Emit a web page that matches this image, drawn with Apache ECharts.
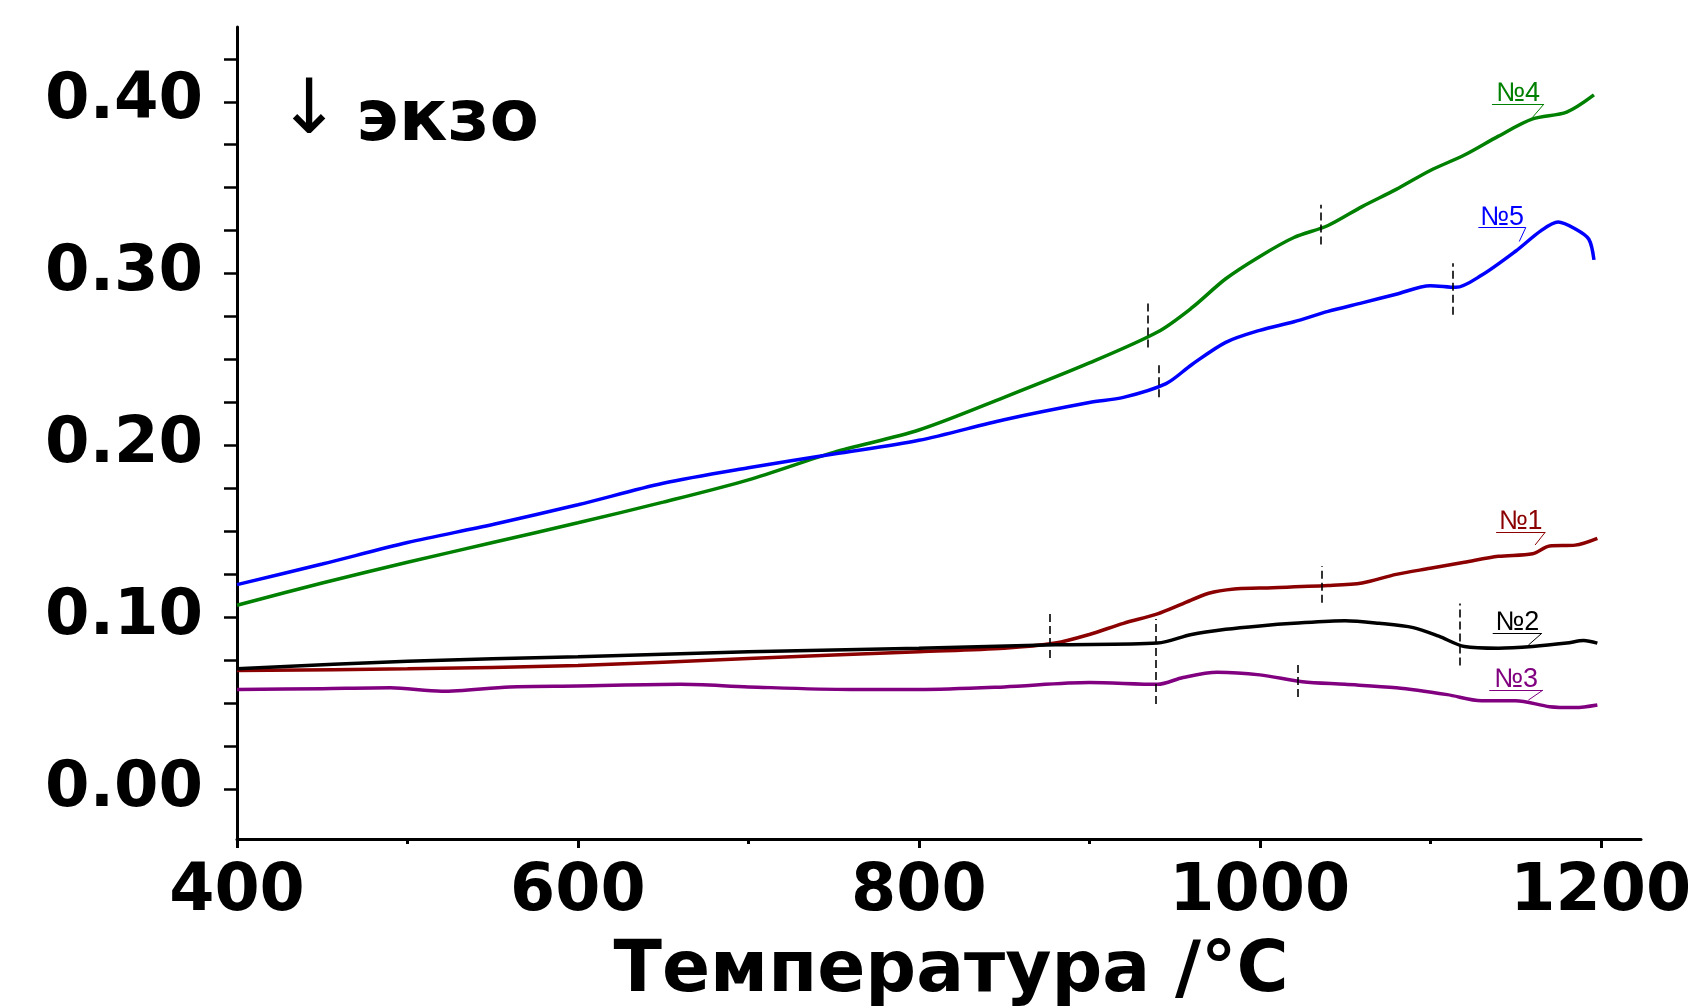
<!DOCTYPE html>
<html>
<head>
<meta charset="utf-8">
<title>ДТА</title>
<script src="https://cdn.jsdelivr.net/npm/echarts@6.0.0/dist/echarts.min.js"></script>
<style>
  html, body { margin: 0; padding: 0; background: #fff; }
  #chart { width: 1688px; height: 1007px; }
</style>
</head>
<body>
<div id="chart"></div>
<script>
// подписи и деления осей
const xLabelValues = [400, 600, 800, 1000, 1200];
const xMinorTicks = [500, 700, 900, 1100];
const yLabelValues = [0, 0.1, 0.2, 0.3, 0.4];
const yTickValues = [0, 0.025, 0.05, 0.075, 0.1, 0.125, 0.15, 0.175, 0.2, 0.225,
    0.25, 0.275, 0.3, 0.325, 0.35, 0.375, 0.4, 0.425];

// №1
const temp1 = [400, 500, 600, 700, 800, 850, 880, 900, 920, 940, 955, 970, 985, 1000, 1040, 1060, 1080, 1100, 1120, 1140, 1160, 1170, 1185, 1198];
const val1 = [0.069, 0.070, 0.072, 0.076, 0.080, 0.082, 0.085, 0.090, 0.0965, 0.102, 0.108, 0.114, 0.1165, 0.117, 0.1185, 0.120, 0.125, 0.1285, 0.132, 0.1355, 0.137, 0.1415, 0.142, 0.146];
// №2
const temp2 = [400, 500, 600, 700, 800, 880, 940, 960, 980, 1000, 1020, 1050, 1070, 1090, 1105, 1120, 1140, 1160, 1180, 1190, 1198];
const val2 = [0.070, 0.0745, 0.077, 0.080, 0.082, 0.084, 0.085, 0.090, 0.093, 0.095, 0.0965, 0.098, 0.0965, 0.094, 0.089, 0.083, 0.082, 0.083, 0.085, 0.0865, 0.085];
// №3
const temp3 = [400, 450, 490, 520, 560, 600, 660, 700, 760, 800, 850, 900, 940, 955, 975, 1000, 1025, 1050, 1080, 1110, 1130, 1150, 1170, 1185, 1198];
const val3 = [0.058, 0.0585, 0.059, 0.057, 0.0595, 0.060, 0.061, 0.0595, 0.058, 0.058, 0.0595, 0.062, 0.061, 0.065, 0.068, 0.0665, 0.0625, 0.061, 0.059, 0.055, 0.0515, 0.0515, 0.048, 0.0475, 0.049];
// №4
const temp4 = [400, 450, 500, 550, 600, 650, 700, 750, 800, 850, 900, 940, 960, 980, 1000, 1020, 1040, 1060, 1080, 1100, 1120, 1140, 1160, 1180, 1196];
const val4 = [0.107, 0.120, 0.132, 0.1435, 0.155, 0.167, 0.180, 0.196, 0.209, 0.228, 0.248, 0.266, 0.280, 0.297, 0.310, 0.321, 0.328, 0.339, 0.349, 0.360, 0.369, 0.380, 0.390, 0.394, 0.404];
// №5
const temp5 = [400, 450, 500, 550, 600, 650, 700, 750, 800, 850, 900, 920, 945, 960, 980, 1000, 1020, 1040, 1060, 1080, 1100, 1115, 1130, 1150, 1165, 1175, 1185, 1193, 1196];
const val5 = [0.119, 0.131, 0.1435, 0.154, 0.1655, 0.178, 0.187, 0.195, 0.203, 0.215, 0.225, 0.228, 0.236, 0.247, 0.260, 0.267, 0.272, 0.278, 0.283, 0.288, 0.293, 0.292, 0.299, 0.313, 0.325, 0.330, 0.326, 0.320, 0.308];

const names = ['№1', '№2', '№3', '№4', '№5'];
const colors = ['#8b0000', '#000000', '#800080', '#008000', '#0000ff'];

// подпись кривой: [T начала черты, T конца черты, уровень черты, T конца выноски, уровень конца выноски]
const tags = [
    [1138.6, 1167.4, 0.1495, 1161.5, 0.1421],
    [1136.6, 1165.4, 0.0907, 1157.5, 0.0838],
    [1134.6, 1166.0, 0.0576, 1157.5, 0.0518],
    [1136.2, 1166.7, 0.3987, 1160.1, 0.3911],
    [1128.2, 1156.0, 0.3268, 1152.2, 0.3187]
];
// вертикальные штриховые отметки: [T, от, до]
const marks = [
    [[876.7, 0.0763, 0.1025], [1036.5, 0.1085, 0.1298]],
    [[939, 0.0495, 0.099], [1117, 0.072, 0.108]],
    [[1022, 0.0537, 0.0741]],
    [[934, 0.257, 0.283], [1036, 0.317, 0.340]],
    [[941, 0.228, 0.248], [1113, 0.276, 0.306]]
];

const temps = [temp1, temp2, temp3, temp4, temp5];
const vals = [val1, val2, val3, val4, val5];

const boldFont = 'DejaVu Sans';

function buildSeries (i) {
    let data = temps[i].map((t, k) => [t, vals[i][k]]);
    let tag = tags[i];
    let lineData = [
        [{ coord: [tag[0], tag[2]] }, { coord: [tag[1], tag[2]] }],
        [{ coord: [tag[1], tag[2]] }, { coord: [tag[3], tag[4]] }]
    ];
    marks[i].forEach(m => {
        lineData.push([
            { coord: [m[0], m[1]], lineStyle: { color: '#000', width: 1.6, type: [8, 4] } },
            { coord: [m[0], m[2]] }
        ]);
    });
    return {
        name: names[i],
        type: 'line',
        data: data,
        smooth: 0.3,
        showSymbol: false,
        lineStyle: { color: colors[i], width: 3.5 },
        itemStyle: { color: colors[i] },
        z: 3,
        markLine: {
            silent: true,
            symbol: ['none', 'none'],
            label: { show: false },
            lineStyle: { color: colors[i], width: 1, type: 'solid' },
            emphasis: { disabled: true },
            data: lineData
        },
        markPoint: {
            silent: true,
            symbol: 'circle',
            symbolSize: 0,
            label: {
                show: true,
                position: 'top',
                distance: -3,
                formatter: names[i],
                color: colors[i],
                fontFamily: 'Liberation Sans',
                fontSize: 27
            },
            data: [{ coord: [(tag[0] + tag[1]) / 2, tag[2]] }]
        }
    };
}

let myChart = echarts.init(document.getElementById('chart'));
myChart.setOption({
    animation: false,
    backgroundColor: '#fff',
    grid: { left: 237, right: 47, top: 27, bottom: 168, containLabel: false, outerBoundsMode: 'none' },
    xAxis: [
        {
            type: 'value',
            min: 400,
            max: 1223.6,
            name: 'Температура /°C',
            nameLocation: 'middle',
            nameGap: 98,
            nameTextStyle: {
                fontFamily: boldFont, fontWeight: 'bold', fontSize: 71, color: '#000',
                padding: [0, 0, 0, 24]
            },
            axisLine: { onZero: false, lineStyle: { color: '#000', width: 3 } },
            axisTick: { customValues: xLabelValues, length: 9, lineStyle: { color: '#000', width: 3 } },
            axisLabel: {
                customValues: xLabelValues,
                margin: 22,
                formatter: v => String(v),
                fontFamily: boldFont, fontWeight: 'bold', fontSize: 65, color: '#000'
            },
            splitLine: { show: false }
        },
        {
            type: 'value',
            min: 400,
            max: 1223.6,
            position: 'bottom',
            axisLine: { show: false, onZero: false },
            axisTick: { customValues: xMinorTicks, length: 5, lineStyle: { color: '#000', width: 3 } },
            axisLabel: { show: false },
            splitLine: { show: false }
        }
    ],
    yAxis: {
        type: 'value',
        min: -0.029,
        max: 0.4435,
        axisLine: { show: true, onZero: false, lineStyle: { color: '#000', width: 3 } },
        axisTick: { show: true, customValues: yTickValues, length: 13, lineStyle: { color: '#000', width: 2.5 } },
        axisLabel: {
            customValues: yLabelValues,
            margin: 34,
            formatter: v => v.toFixed(2),
            fontFamily: boldFont, fontWeight: 'bold', fontSize: 64, color: '#000'
        },
        splitLine: { show: false }
    },
    graphic: [
        {
            type: 'text',
            style: {
                x: 309, y: 113, text: '↓', align: 'center', verticalAlign: 'middle',
                font: 'normal 76px "DejaVu Sans"', fill: '#000'
            }
        },
        {
            type: 'text',
            style: {
                x: 356, y: 121, text: 'экзо', align: 'left', verticalAlign: 'middle',
                font: 'bold 72px "DejaVu Sans"', fill: '#000'
            }
        }
    ],
    series: [0, 1, 2, 3, 4].map(buildSeries)
});
</script>
</body>
</html>
